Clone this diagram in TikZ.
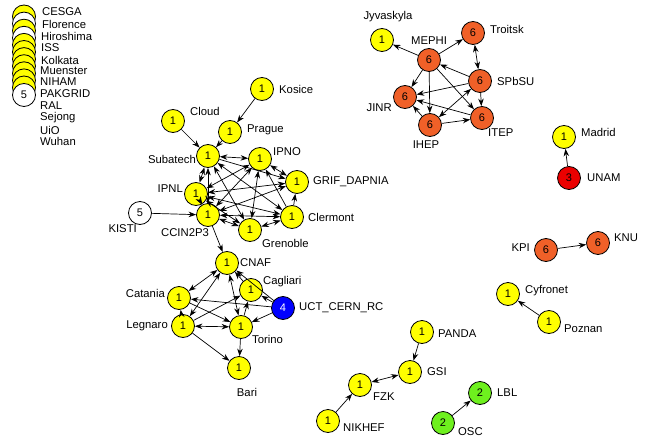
\documentclass[tikz,border=0pt]{standalone}
\usepackage{fontspec}
\setmainfont{Liberation Sans}
\usetikzlibrary{arrows.meta}
\definecolor{gyellow}{RGB}{255,255,0}
\definecolor{gorange}{RGB}{240,96,40}
\definecolor{gred}{RGB}{235,0,0}
\definecolor{gblue}{RGB}{0,0,255}
\definecolor{ggreen}{RGB}{110,240,30}
\begin{document}
\begin{tikzpicture}[x=1pt,y=-1pt,
  site/.style={circle, draw, line width=0.8pt, minimum size=23pt, inner sep=0pt, font=\fontsize{11}{12}\selectfont},
  ysite/.style={site, fill=gyellow},
  wsite/.style={site, fill=white},
  osite/.style={site, fill=gorange},
  rsite/.style={site, fill=gred},
  bsite/.style={site, fill=gblue, text=white},
  gsite/.style={site, fill=ggreen},
  lbl/.style={font=\fontsize{11.3}{13}\selectfont, inner sep=0pt},
  arr/.style={line width=0.7pt, -{Stealth[length=7.5pt,width=5.5pt]}},
  barr/.style={line width=0.7pt, {Stealth[length=7.5pt,width=5.5pt]}-{Stealth[length=7.5pt,width=5.5pt]}}
]
\useasboundingbox (0,0) rectangle (663,441);

% stacked isolated sites
\node[ysite] (g1) at (24,16.5) {};
\node[wsite] (g2) at (24,23.6) {};
\node[ysite] (g3) at (24,30.7) {};
\node[wsite] (g4) at (24,37.8) {};
\node[ysite] (g5) at (24,44.9) {};
\node[ysite] (g6) at (24,52.0) {};
\node[ysite] (g7) at (24,59.1) {};
\node[ysite] (g8) at (24,66.2) {};
\node[ysite] (g9) at (24,73.3) {};
\node[ysite] (g10) at (24,80.4) {};
\node[ysite] (g11) at (24,87.5) {};
\node[wsite] (g12) at (24,95) {5};
\node[lbl,anchor=west] (lg1) at (42,12) {CESGA};
\node[lbl,anchor=west] (lg2) at (42,24) {Florence};
\node[lbl,anchor=west] (lg3) at (41,36) {Hiroshima};
\node[lbl,anchor=west] (lg4) at (41,48) {ISS};
\node[lbl,anchor=west] (lg5) at (41,60) {Kolkata};
\node[lbl,anchor=west] (lg6) at (40,71) {Muenster};
\node[lbl,anchor=west] (lg7) at (40,82) {NIHAM};
\node[lbl,anchor=west] (lg8) at (40,94) {PAKGRID};
\node[lbl,anchor=west] (lg9) at (40,106) {RAL};
\node[lbl,anchor=west] (lg10) at (40,118) {Sejong};
\node[lbl,anchor=west] (lg11) at (40,130) {UiO};
\node[lbl,anchor=west] (lg12) at (40,141) {Wuhan};

% French cluster
\node[ysite] (Kosice) at (262,89) {1};
\node[lbl,anchor=west] (lKosice) at (279,89) {Kosice};
\node[ysite] (Cloud) at (173,121) {1};
\node[lbl,anchor=west] (lCloud) at (190,111) {Cloud};
\node[ysite] (Prague) at (230,132) {1};
\node[lbl,anchor=west] (lPrague) at (247,130) {Prague};
\node[ysite] (Subatech) at (208,156) {1};
\node[lbl,anchor=east] (lSubatech) at (196,159) {Subatech};
\node[ysite] (IPNO) at (260,159) {1};
\node[lbl,anchor=west] (lIPNO) at (273,152) {IPNO};
\node[ysite] (GRIF) at (297,182) {1};
\node[lbl,anchor=west] (lGRIF) at (313,182) {GRIF\_DAPNIA};
\node[ysite] (IPNL) at (196,194) {1};
\node[lbl,anchor=east] (lIPNL) at (183,189) {IPNL};
\node[ysite] (CCIN) at (208,215) {1};
\node[lbl] (lCCIN) at (185,233) {CCIN2P3};
\node[wsite] (KISTI) at (140,213) {5};
\node[lbl,anchor=east] (lKISTI) at (137,229) {KISTI};
\node[ysite] (Clermont) at (292,217) {1};
\node[lbl,anchor=west] (lClermont) at (308,217) {Clermont};
\node[ysite] (Grenoble) at (250,230) {1};
\node[lbl,anchor=west] (lGrenoble) at (262,243) {Grenoble};

\draw[arr] (Kosice) -- (Prague);
\draw[arr] (Cloud) -- (Subatech);
\draw[arr] (Prague) -- (Subatech);
\draw[arr] (KISTI) -- (CCIN);
\draw[barr] (Subatech) -- (IPNO);
\draw[arr] (Subatech) -- (GRIF);
\draw[barr] (Subatech) -- (Clermont);
\draw[barr] (Subatech) -- (Grenoble);
\draw[barr] (Subatech) -- (IPNL);
\draw[barr] (Subatech) -- (CCIN);
\draw[barr] (IPNO) -- (GRIF);
\draw[arr] (Clermont) -- (IPNO);
\draw[barr] (IPNO) -- (Grenoble);
\draw[barr] (IPNO) -- (IPNL);
\draw[barr] (IPNO) -- (CCIN);
\draw[arr] (Clermont) -- (GRIF);
\draw[barr] (GRIF) -- (IPNL);
\draw[barr] (GRIF) -- (CCIN);
\draw[barr] (Clermont) -- (Grenoble);
\draw[barr] (Clermont) -- (CCIN);
\draw[barr] (Clermont) -- (IPNL);
\draw[barr] (Grenoble) -- (CCIN);
\draw[barr] (Grenoble) -- (IPNL);
\draw[barr] (IPNL) -- (CCIN);

% Italian cluster
\node[ysite] (CNAF) at (227,263) {1};
\node[lbl,anchor=west] (lCNAF) at (240,263) {CNAF};
\node[ysite] (Cagliari) at (251,290) {1};
\node[lbl,anchor=west] (lCagliari) at (263,282) {Cagliari};
\node[ysite] (Catania) at (179,298) {1};
\node[lbl,anchor=east] (lCatania) at (165,293) {Catania};
\node[bsite] (UCT) at (283,308) {4};
\node[lbl,anchor=west] (lUCT) at (299,308) {UCT\_CERN\_RC};
\node[ysite] (Legnaro) at (183,326) {1};
\node[lbl,anchor=east] (lLegnaro) at (168,326) {Legnaro};
\node[ysite] (Torino) at (241,327) {1};
\node[lbl,anchor=west] (lTorino) at (252,339) {Torino};
\node[ysite] (Bari) at (239,368) {1};
\node[lbl] (lBari) at (247,392) {Bari};

\draw[arr] (CCIN) -- (CNAF);
\draw[barr] (CNAF) -- (Catania);
\draw[barr] (CNAF) -- (Legnaro);
\draw[barr] (CNAF) -- (Torino);
\draw[arr] (Cagliari) -- (CNAF);
\draw[arr] (UCT) -- (CNAF);
\draw[arr] (UCT) -- (Cagliari);
\draw[arr] (UCT) -- (Torino);
\draw[arr] (UCT) -- (Catania);
\draw[arr] (Catania) -- (Torino);
\draw[arr] (Legnaro) -- (Catania);
\draw[barr] (Legnaro) -- (Torino);
\draw[arr] (Legnaro) -- (Cagliari);
\draw[arr] (Torino) -- (Cagliari);
\draw[arr] (Legnaro) -- (Bari);
\draw[arr] (Torino) -- (Bari);

% Russian cluster
\node[ysite] (Jyv) at (382,40) {1};
\node[lbl] (lJyv) at (388,17) {Jyvaskyla};
\node[osite] (MEPHI) at (429,60) {6};
\node[lbl] (lMEPHI) at (429,41) {MEPHI};
\node[osite] (Troitsk) at (473,33) {6};
\node[lbl,anchor=west] (lTroitsk) at (490,29) {Troitsk};
\node[osite] (SPbSU) at (480,81) {6};
\node[lbl,anchor=west] (lSPbSU) at (497,81) {SPbSU};
\node[osite] (JINR) at (405,97) {6};
\node[lbl,anchor=east] (lJINR) at (392,108) {JINR};
\node[osite] (IHEP) at (430,125) {6};
\node[lbl] (lIHEP) at (426,145) {IHEP};
\node[osite] (ITEP) at (482,118) {6};
\node[lbl,anchor=west] (lITEP) at (488,133) {ITEP};

\draw[arr] (MEPHI) -- (Jyv);
\draw[arr] (MEPHI) -- (Troitsk);
\draw[barr] (Troitsk) -- (SPbSU);
\draw[arr] (MEPHI) -- (JINR);
\draw[arr] (MEPHI) -- (IHEP);
\draw[arr] (MEPHI) -- (ITEP);
\draw[arr] (SPbSU) -- (MEPHI);
\draw[arr] (SPbSU) -- (JINR);
\draw[arr] (SPbSU) -- (ITEP);
\draw[barr] (SPbSU) -- (IHEP);
\draw[arr] (IHEP) -- (ITEP);
\draw[arr] (IHEP) -- (JINR);
\draw[arr] (ITEP) -- (JINR);

% other groups
\node[ysite] (Madrid) at (564,137) {1};
\node[lbl,anchor=west] (lMadrid) at (581,132) {Madrid};
\node[rsite] (UNAM) at (569,178) {3};
\node[lbl,anchor=west] (lUNAM) at (587,178) {UNAM};
\node[osite] (KPI) at (546,250) {6};
\node[lbl,anchor=east] (lKPI) at (530,248) {KPI};
\node[osite] (KNU) at (598,243) {6};
\node[lbl,anchor=west] (lKNU) at (614,238) {KNU};
\node[ysite] (Cyfronet) at (508,294) {1};
\node[lbl,anchor=west] (lCyfronet) at (525,291) {Cyfronet};
\node[ysite] (Poznan) at (549,322) {1};
\node[lbl,anchor=west] (lPoznan) at (564,329) {Poznan};

\draw[arr] (UNAM) -- (Madrid);
\draw[arr] (KPI) -- (KNU);
\draw[arr] (Poznan) -- (Cyfronet);

\node[ysite] (PANDA) at (422,332) {1};
\node[lbl,anchor=west] (lPANDA) at (438,334) {PANDA};
\node[ysite] (GSI) at (410,372) {1};
\node[lbl,anchor=west] (lGSI) at (427,372) {GSI};
\node[ysite] (FZK) at (360,385) {1};
\node[lbl,anchor=west] (lFZK) at (373,397) {FZK};
\node[ysite] (NIKHEF) at (328,421) {1};
\node[lbl,anchor=west] (lNIKHEF) at (343,428) {NIKHEF};
\node[gsite] (LBL) at (480,393) {2};
\node[lbl,anchor=west] (lLBL) at (497,393) {LBL};
\node[gsite] (OSC) at (443,423) {2};
\node[lbl,anchor=west] (lOSC) at (458,432) {OSC};

\draw[arr] (PANDA) -- (GSI);
\draw[barr] (GSI) -- (FZK);
\draw[arr] (NIKHEF) -- (FZK);
\draw[arr] (OSC) -- (LBL);
\end{tikzpicture}
\end{document}
